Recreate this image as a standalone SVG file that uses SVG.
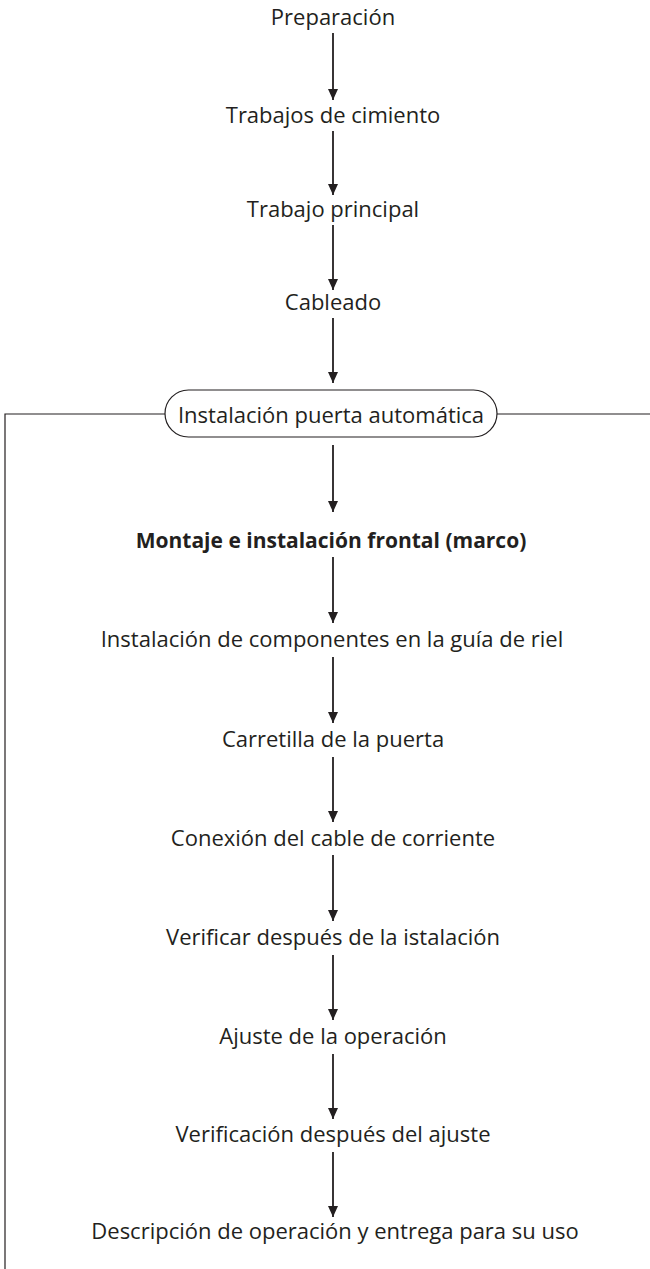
<svg xmlns="http://www.w3.org/2000/svg" width="650" height="1269" viewBox="0 0 650 1269">
<defs>
<marker id="ah" markerUnits="userSpaceOnUse" markerWidth="12" markerHeight="12" viewBox="0 0 12 12" refX="11" refY="6" orient="auto"><path d="M0,1 L11,6 L0,11 Z" fill="#231f20"/></marker>
<style>
text{font-family:"Open Sans","Noto Sans",sans-serif;font-size:22px;fill:#231f20;text-anchor:middle}
.b{font-weight:bold;font-size:21px}
.arr{stroke:#231f20;stroke-width:1.8;fill:none}
.ln{stroke:#231f20;stroke-width:1.2;fill:none}
</style>
</defs>
<rect width="650" height="1269" fill="#fff"/>
<g id="connectors">
<path class="ln" d="M165,414 H5 V1269"/>
<path class="ln" d="M497,414 H650"/>
<line class="arr" x1="333" y1="33" x2="333" y2="100" marker-end="url(#ah)"/>
<line class="arr" x1="333" y1="131" x2="333" y2="195" marker-end="url(#ah)"/>
<line class="arr" x1="333" y1="225" x2="333" y2="290" marker-end="url(#ah)"/>
<line class="arr" x1="333" y1="318" x2="333" y2="383" marker-end="url(#ah)"/>
<line class="arr" x1="333" y1="445" x2="333" y2="512" marker-end="url(#ah)"/>
<line class="arr" x1="333" y1="557" x2="333" y2="623" marker-end="url(#ah)"/>
<line class="arr" x1="333" y1="657" x2="333" y2="723" marker-end="url(#ah)"/>
<line class="arr" x1="333" y1="757" x2="333" y2="822" marker-end="url(#ah)"/>
<line class="arr" x1="333" y1="855" x2="333" y2="921" marker-end="url(#ah)"/>
<line class="arr" x1="333" y1="955" x2="333" y2="1020" marker-end="url(#ah)"/>
<line class="arr" x1="333" y1="1054" x2="333" y2="1119" marker-end="url(#ah)"/>
<line class="arr" x1="333" y1="1152" x2="333" y2="1217" marker-end="url(#ah)"/>
</g>
<g id="n1"><text x="333" y="25">Preparación</text></g>
<g id="n2"><text x="333" y="123">Trabajos de cimiento</text></g>
<g id="n3"><text x="333" y="217">Trabajo principal</text></g>
<g id="n4"><text x="333" y="310">Cableado</text></g>
<g id="n5"><rect x="165" y="390" width="332" height="47" rx="23.5" fill="#fff" stroke="#231f20" stroke-width="1.2"/><text x="331" y="423">Instalación puerta automática</text></g>
<g id="n6"><text class="b" x="331" y="548">Montaje e instalación frontal (marco)</text></g>
<g id="n7"><text x="332" y="647">Instalación de componentes en la guía de riel</text></g>
<g id="n8"><text x="333" y="747">Carretilla de la puerta</text></g>
<g id="n9"><text x="333" y="846">Conexión del cable de corriente</text></g>
<g id="n10"><text x="333" y="945">Verificar después de la istalación</text></g>
<g id="n11"><text x="333" y="1044">Ajuste de la operación</text></g>
<g id="n12"><text x="333" y="1142">Verificación después del ajuste</text></g>
<g id="n13"><text x="335" y="1239">Descripción de operación y entrega para su uso</text></g>
</svg>
